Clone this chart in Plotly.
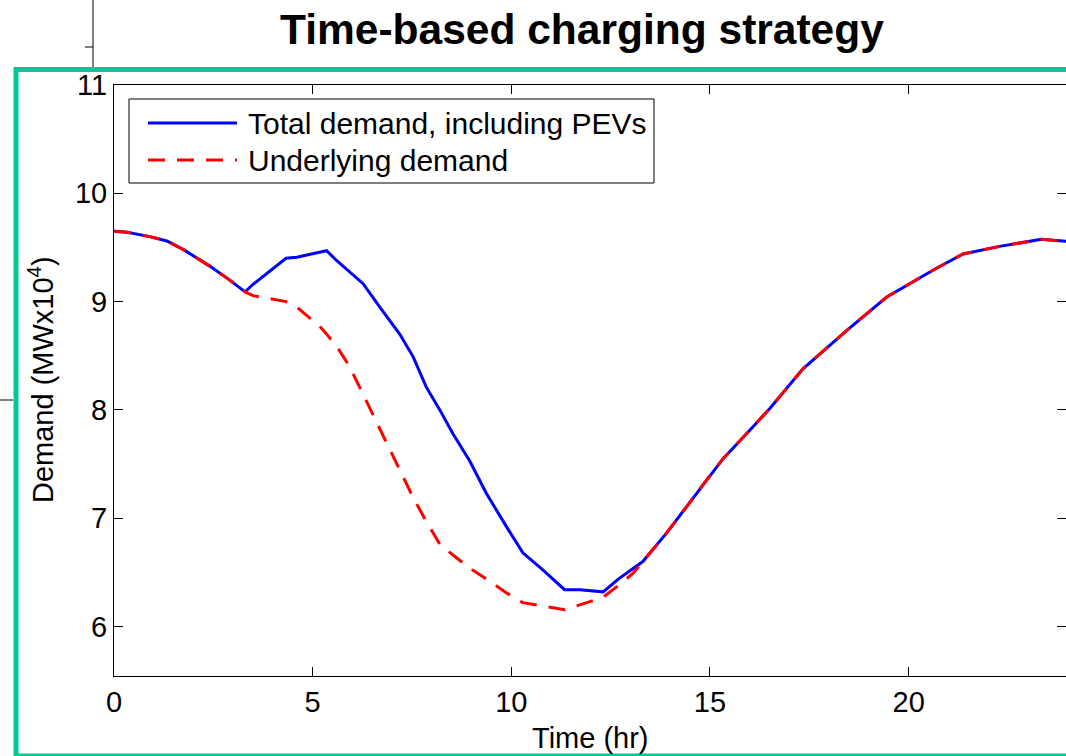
import plotly.graph_objects as go

# ---- data ----
time_hr = [0, 0.33, 0.9, 1.33, 1.75, 2.1, 2.4, 2.87, 3.3, 3.5, 3.75, 4.33, 4.6,
           5.18, 5.35, 5.6, 5.93, 6.27, 6.69, 7.19, 7.53, 7.86, 8.2, 8.53, 8.95,
           9.37, 9.88, 10.29, 10.8, 11.34, 11.72, 12.31, 12.7, 13.06, 13.31, 13.9,
           14.4, 14.74, 15.33, 15.92, 16.5, 17.34, 18.1, 18.43, 19.44, 20.28,
           20.61, 21.37, 22.29, 23.34, 24]

total_demand = [9.65, 9.64, 9.60, 9.56, 9.48, 9.40, 9.33, 9.21, 9.09, 9.16, 9.23,
                9.40, 9.41, 9.46, 9.47, 9.38, 9.27, 9.165, 8.95, 8.70, 8.49, 8.21,
                8.00, 7.78, 7.53, 7.23, 6.92, 6.68, 6.52, 6.34, 6.34, 6.32, 6.44,
                6.53, 6.60, 6.86, 7.10, 7.27, 7.55, 7.78, 8.01, 8.38, 8.625, 8.73,
                9.04, 9.225, 9.29, 9.44, 9.51, 9.575, 9.555]

underlying_demand = [9.65, 9.64, 9.60, 9.56, 9.48, 9.40, 9.33, 9.21, 9.09, 9.055,
                     9.04, 9.00, 8.95, 8.77, 8.70, 8.59, 8.40, 8.14, 7.82, 7.45,
                     7.19, 6.97, 6.76, 6.66, 6.54, 6.44, 6.31, 6.22, 6.19, 6.155,
                     6.20, 6.27, 6.38, 6.49, 6.60, 6.86, 7.10, 7.27, 7.55, 7.78,
                     8.01, 8.38, 8.625, 8.73, 9.04, 9.225, 9.29, 9.44, 9.51, 9.575,
                     9.555]

x_ticks = [0, 5, 10, 15, 20]
y_ticks = [6, 7, 8, 9, 10, 11]

title_text = "Time-based charging strategy"
x_title = "Time (hr)"
y_title = "Demand (MWx10<sup>4</sup>)"
legend_labels = ["Total demand, including PEVs", "Underlying demand"]

# ---- layout geometry (pixels) ----
W, H = 1066, 756
L, R, T, B = 114, 0, 85, 80
PW, PH = W - L - R, H - T - B
X_RANGE = [0, 23.96]
Y_RANGE = [5.543, 11]


def px(xp):
    return (xp - L) / PW


def py(yp):
    return (H - B - yp) / PH


FONT = "Liberation Sans, Arial, Helvetica, sans-serif"

fig = go.Figure()
fig.add_trace(go.Scatter(x=time_hr, y=total_demand, mode="lines",
                         name=legend_labels[0],
                         line=dict(color="#0000FF", width=3)))
fig.add_trace(go.Scatter(x=time_hr, y=underlying_demand, mode="lines",
                         name=legend_labels[1],
                         line=dict(color="#FF0000", width=3, dash="17px,12px")))
# empty trace that only makes the right-hand tick axis exist
fig.add_trace(go.Scatter(x=[], y=[], yaxis="y2", showlegend=False,
                         hoverinfo="skip"))

tick_common = dict(ticks="inside", ticklen=9, tickwidth=1, tickcolor="black",
                   showgrid=False, zeroline=False,
                   tickfont=dict(size=29, color="black", family=FONT))

fig.update_layout(
    xaxis=dict(range=X_RANGE, tickvals=x_ticks, showline=True, linecolor="black",
               linewidth=1, mirror="ticks", **tick_common),
    yaxis=dict(range=Y_RANGE, tickvals=y_ticks, showline=True, linecolor="black",
               linewidth=1, mirror=False, **tick_common),
    yaxis2=dict(range=Y_RANGE, tickvals=y_ticks, overlaying="y", side="right",
                showline=False, showticklabels=False, **tick_common),
)

shapes = []
# green slide frame
shapes.append(dict(type="rect", xref="paper", yref="paper",
                   x0=px(16), x1=px(1090), y0=py(756), y1=py(69.5),
                   line=dict(color="rgb(0,200,150)", width=5), layer="above"))
# stray lines from the slide
for (a, b, c, d) in [(93, 0, 93, 67), (85, 47, 93, 47), (0, 400, 13, 400)]:
    shapes.append(dict(type="line", xref="paper", yref="paper",
                       x0=px(a), y0=py(b), x1=px(c), y1=py(d),
                       line=dict(color="black", width=1)))
# legend box
shapes.append(dict(type="rect", xref="paper", yref="paper",
                   x0=px(129), x1=px(654), y0=py(183), y1=py(99),
                   line=dict(color="black", width=1), fillcolor="white",
                   layer="above"))
shapes.append(dict(type="line", xref="paper", yref="paper",
                   x0=px(148), x1=px(237), y0=py(123), y1=py(123),
                   line=dict(color="#0000FF", width=3), layer="above"))
shapes.append(dict(type="line", xref="paper", yref="paper",
                   x0=px(148), x1=px(237), y0=py(160), y1=py(160),
                   line=dict(color="#FF0000", width=3, dash="17px,12px"),
                   layer="above"))

annotations = [
    dict(text="<b>" + title_text + "</b>", xref="paper", yref="paper",
         x=px(582), y=py(30), xanchor="center", yanchor="middle",
         showarrow=False, font=dict(size=42.5, color="black", family=FONT)),
    dict(text=x_title, xref="paper", yref="paper", x=px(590), y=py(738),
         xanchor="center", yanchor="middle", showarrow=False,
         font=dict(size=29, color="black", family=FONT)),
    dict(text=y_title, xref="paper", yref="paper", x=px(41), y=py(380),
         xanchor="center", yanchor="middle", textangle=-90, showarrow=False,
         font=dict(size=29, color="black", family=FONT)),
    dict(text=legend_labels[0], xref="paper", yref="paper", x=px(246), y=py(123),
         xanchor="left", yanchor="middle", showarrow=False,
         font=dict(size=30, color="black", family=FONT)),
    dict(text=legend_labels[1], xref="paper", yref="paper", x=px(246), y=py(160),
         xanchor="left", yanchor="middle", showarrow=False,
         font=dict(size=30, color="black", family=FONT)),
]

fig.update_layout(width=W, height=H, margin=dict(l=L, r=R, t=T, b=B, pad=0),
                  plot_bgcolor="white", paper_bgcolor="white", showlegend=False,
                  font=dict(family=FONT, color="black"),
                  shapes=shapes, annotations=annotations)

fig.write_html("out.html")
